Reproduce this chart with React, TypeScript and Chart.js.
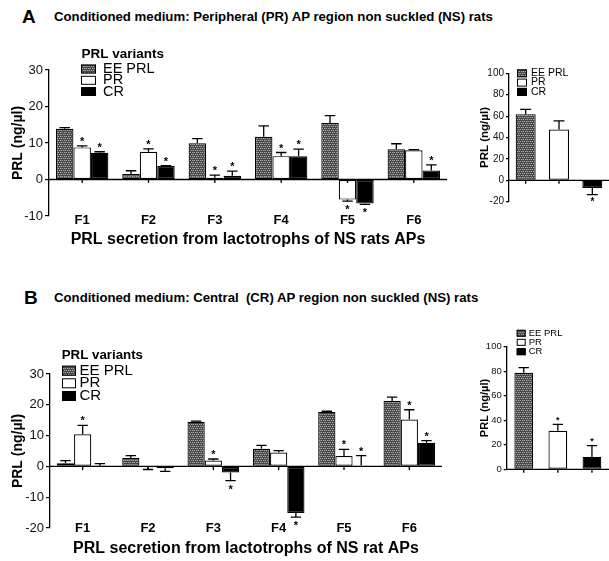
import React, { useEffect, useRef } from "react";
import { Chart, registerables } from "chart.js";
Chart.register(...registerables);

const FONT = "'Liberation Sans', Arial, Helvetica, sans-serif";

// ---------- data ----------
const fractions = ["F1", "F2", "F3", "F4", "F5", "F6"];
const variantNames = ["EE PRL", "PR", "CR"];

// Panel A: peripheral (PR) region, main chart
const aEE = [13.9, 1.5, 9.9, 11.7, 15.5, 8.3];
const aEEErr = [14.2, 2.4, 11.2, 14.7, 17.5, 9.8];
const aPR = [8.8, 7.6, 0.5, 6.4, -5.5, 8.0];
const aPRErr = [9.2, 8.4, 1.2, 7.4, -5.9, 8.2];
const aCR = [7.3, 3.7, 1.0, 6.4, -6.6, 2.5];
const aCRErr = [7.6, 3.8, 2.3, 8.3, -6.8, 4.0];
const aEESig = [0, 0, 0, 0, 0, 0];
const aPRSig = [1, 1, 1, 1, 1, 0];
const aCRSig = [1, 1, 1, 1, 1, 1];

// Panel A inset (totals)
const aTotal = [61.8, 47.5, -7.2];
const aTotalErr = [66.3, 55.6, -13.4];
const aTotalSig = [0, 0, 1];

// Panel B: central (CR) region, main chart
const bEE = [1.0, 2.7, 14.5, 5.7, 17.7, 21.2];
const bEEErr = [1.9, 3.5, 14.7, 6.8, 17.9, 22.5];
const bPR = [10.4, -0.3, 1.9, 4.5, 3.4, 15.2];
const bPRErr = [13.3, -1.0, 2.4, 5.1, 5.5, 18.4];
const bCR = [0.1, -0.6, -2.0, -15.1, 0.3, 7.7];
const bCRErr = [0.9, -1.6, -4.6, -16.5, 3.5, 8.4];
const bEESig = [0, 0, 0, 0, 0, 0];
const bPRSig = [1, 0, 1, 0, 1, 1];
const bCRSig = [0, 0, 1, 1, 1, 1];

// Panel B inset (totals)
const bTotal = [78.8, 31.5, 10.1];
const bTotalErr = [82.9, 36.7, 19.3];
const bTotalSig = [0, 1, 1];

const FILLS = ["pattern", "#ffffff", "#000000"];

type Rect = { x: number; y: number; w: number; h: number };
type Area = { left: number; top: number; right: number; bottom: number };
type LegendCfg = {
  title?: string;
  titleDx: number;
  titleDy: number;
  titleSize: number;
  rowDy: number[];
  boxDx: number;
  boxW: number;
  boxH: number;
  textDx: number;
  textSize: number;
};
type Props = {
  box: Rect;
  area: Area;
  labels: string[];
  series: { label: string; data: number[]; fill: string | string[] }[];
  errs: number[][];
  sigs: number[][];
  yMin: number;
  yMax: number;
  yStep: number;
  tickSize: number;
  tickLen: number;
  yTitle: string;
  yTitleSize: number;
  yTitleX: number;
  xTitle?: string;
  xTitleSize?: number;
  xTitleY?: number;
  xLabelSize?: number;
  xLabelY?: number;
  catPct: number;
  capFrac: number;
  starSize: number;
  starUp: number;
  starDown: number;
  legend: LegendCfg;
};

function makePattern(): CanvasPattern | string {
  const c = document.createElement("canvas");
  c.width = 4;
  c.height = 4;
  const g = c.getContext("2d");
  if (!g) return "#555";
  g.fillStyle = "#474747";
  g.fillRect(0, 0, 4, 4);
  g.fillStyle = "#a8a8a8";
  g.fillRect(0, 0, 1, 1);
  g.fillRect(2, 0, 1, 1);
  g.fillRect(1, 2, 1, 1);
  g.fillRect(3, 2, 1, 1);
  g.fillStyle = "#707070";
  g.fillRect(1, 0, 1, 1);
  g.fillRect(0, 2, 1, 1);
  return g.createPattern(c, "repeat") || "#555";
}

function PRLChart(p: Props) {
  const ref = useRef<HTMLCanvasElement>(null);
  useEffect(() => {
    const canvas = ref.current;
    if (!canvas) return;
    const pat = makePattern();
    const fillOf = (f: string) => (f === "pattern" ? pat : f);

    const padTop = p.area.top - p.box.y;
    const yW = p.area.left - p.box.x;
    const padRight = p.box.x + p.box.w - p.area.right;
    const xH = p.box.y + p.box.h - p.area.bottom;
    const yTitleLH = p.yTitleSize * 1.2;
    const yTitlePad = p.yTitleX - p.box.x - yTitleLH / 2;
    const xTitleSize = p.xTitleSize || 12;
    const xLabelSize = p.xLabelSize || 12;
    const xTitlePad = p.xTitleY ? p.box.y + p.box.h - p.xTitleY - (xTitleSize * 1.2) / 2 : 0;
    const xLabelOffset = p.xLabelY ? p.xLabelY - p.area.bottom : 0;

    const extras = {
      id: "prlExtras",
      afterDatasetsDraw(chart: any) {
        const ctx = chart.ctx as CanvasRenderingContext2D;
        const ca = chart.chartArea;
        const xs = chart.scales.x;
        const ys = chart.scales.y;
        const y0 = ys.getPixelForValue(0);
        ctx.save();
        // error bars + significance stars
        chart.data.datasets.forEach((ds: any, i: number) => {
          const meta = chart.getDatasetMeta(i);
          meta.data.forEach((bar: any, j: number) => {
            const v = ds.data[j] as number;
            const e = p.errs[i][j];
            const yv = ys.getPixelForValue(v);
            const ye = ys.getPixelForValue(e);
            const bp = bar.getProps(["x", "width"], true);
            const cw = bp.width * p.capFrac;
            ctx.strokeStyle = "#000";
            ctx.lineWidth = 1.3;
            ctx.beginPath();
            ctx.moveTo(bp.x, yv);
            ctx.lineTo(bp.x, ye);
            ctx.moveTo(bp.x - cw / 2, ye);
            ctx.lineTo(bp.x + cw / 2, ye);
            ctx.stroke();
            if (p.sigs[i][j]) {
              ctx.fillStyle = "#000";
              ctx.font = `bold ${p.starSize}px ${FONT}`;
              ctx.textAlign = "center";
              ctx.textBaseline = "middle";
              const up = e >= v;
              ctx.fillText("*", bp.x, up ? ye - p.starUp : ye + p.starDown);
            }
          });
        });
        // zero line with category ticks
        ctx.strokeStyle = "#000";
        ctx.lineWidth = 1.3;
        ctx.beginPath();
        ctx.moveTo(ca.left, y0);
        ctx.lineTo(ca.right, y0);
        p.labels.forEach((_l, i) => {
          const px = xs.getPixelForValue(i);
          ctx.moveTo(px, y0);
          ctx.lineTo(px, y0 + 3.5);
        });
        ctx.stroke();
        // category labels (below the plot, beside the lowest y tick)
        if (p.xLabelY) {
          ctx.fillStyle = "#000";
          ctx.font = `bold ${xLabelSize}px ${FONT}`;
          ctx.textAlign = "center";
          ctx.textBaseline = "middle";
          p.labels.forEach((l, i) => {
            ctx.fillText(l, xs.getPixelForValue(i), ca.bottom + xLabelOffset);
          });
        }
        // legend
        const L = p.legend;
        ctx.textAlign = "left";
        ctx.textBaseline = "middle";
        ctx.fillStyle = "#000";
        if (L.title) {
          ctx.font = `bold ${L.titleSize}px ${FONT}`;
          ctx.fillText(L.title, ca.left + L.titleDx, ca.top + L.titleDy);
        }
        variantNames.forEach((name, k) => {
          const cy = ca.top + L.rowDy[k];
          const bx = ca.left + L.boxDx;
          ctx.fillStyle = fillOf(FILLS[k]) as any;
          ctx.fillRect(bx, cy - L.boxH / 2, L.boxW, L.boxH);
          ctx.strokeStyle = "#000";
          ctx.lineWidth = 1;
          ctx.strokeRect(bx + 0.5, cy - L.boxH / 2 + 0.5, L.boxW - 1, L.boxH - 1);
          ctx.fillStyle = "#000";
          ctx.font = `${L.textSize}px ${FONT}`;
          ctx.fillText(name, ca.left + L.textDx, cy);
        });
        ctx.restore();
      },
    };

    const chart = new Chart(canvas, {
      type: "bar",
      data: {
        labels: p.labels,
        datasets: p.series.map((s) => ({
          label: s.label,
          data: s.data,
          backgroundColor: Array.isArray(s.fill) ? s.fill.map(fillOf) : fillOf(s.fill),
          borderColor: "#000",
          borderWidth: 1.2,
          borderSkipped: false,
          categoryPercentage: p.catPct,
          barPercentage: 1,
        })) as any,
      },
      options: {
        responsive: false,
        animation: false,
        devicePixelRatio: 1,
        layout: { padding: { top: padTop, left: 0, right: padRight, bottom: 0 } },
        plugins: {
          legend: { display: false },
          tooltip: { enabled: false },
          title: { display: false },
        },
        scales: {
          x: {
            grid: { display: false, drawTicks: false },
            border: { display: false },
            ticks: { display: false },
            title: {
              display: !!p.xTitle,
              text: p.xTitle || "",
              color: "#000",
              font: { family: FONT, size: xTitleSize, weight: "bold", lineHeight: 1.2 },
              padding: { top: 0, bottom: xTitlePad },
            },
            afterFit(s: any) {
              s.height = xH;
            },
          },
          y: {
            min: p.yMin,
            max: p.yMax,
            ticks: {
              stepSize: p.yStep,
              color: "#111",
              padding: 2,
              font: { family: FONT, size: p.tickSize, lineHeight: 1.2 },
            },
            grid: {
              drawOnChartArea: false,
              drawTicks: true,
              tickLength: p.tickLen,
              color: "#000",
              lineWidth: 1.2,
            },
            border: { display: true, color: "#000", width: 1.3 },
            title: {
              display: true,
              text: p.yTitle,
              color: "#000",
              font: { family: FONT, size: p.yTitleSize, weight: "bold", lineHeight: 1.2 },
              padding: { top: yTitlePad, bottom: 0 },
            },
            afterFit(s: any) {
              s.width = yW;
            },
          },
        } as any,
      },
      plugins: [extras as any],
    });
    return () => chart.destroy();
  }, []);
  return (
    <canvas
      ref={ref}
      width={p.box.w}
      height={p.box.h}
      style={{ position: "absolute", left: p.box.x, top: p.box.y, width: p.box.w, height: p.box.h, display: "block" }}
    />
  );
}

function Heading(props: { letter: string; text: string; cy: number; letterX: number }) {
  return (
    <>
      <div
        style={{
          position: "absolute",
          left: props.letterX,
          top: props.cy - 11,
          height: 22,
          lineHeight: "22px",
          fontSize: 19,
          fontWeight: "bold",
          fontFamily: FONT,
          color: "#000",
        }}
      >
        {props.letter}
      </div>
      <div
        style={{
          position: "absolute",
          left: 54,
          top: props.cy - 9,
          height: 18,
          lineHeight: "18px",
          fontSize: 13.2,
          fontWeight: "bold",
          fontFamily: FONT,
          color: "#000",
          whiteSpace: "pre",
        }}
      >
        {props.text}
      </div>
    </>
  );
}

export default function App() {
  const mainSeriesA = [
    { label: variantNames[0], data: aEE, fill: FILLS[0] },
    { label: variantNames[1], data: aPR, fill: FILLS[1] },
    { label: variantNames[2], data: aCR, fill: FILLS[2] },
  ];
  const mainSeriesB = [
    { label: variantNames[0], data: bEE, fill: FILLS[0] },
    { label: variantNames[1], data: bPR, fill: FILLS[1] },
    { label: variantNames[2], data: bCR, fill: FILLS[2] },
  ];
  return (
    <div style={{ position: "absolute", left: 0, top: 0, width: 609, height: 561, background: "#fff", overflow: "hidden" }}>
      <Heading letter="A" letterX={22} cy={17} text="Conditioned medium: Peripheral (PR) AP region non suckled (NS) rats" />
      <Heading letter="B" letterX={24} cy={298} text="Conditioned medium: Central  (CR) AP region non suckled (NS) rats" />

      <PRLChart
        box={{ x: 0, y: 40, w: 455, h: 215 }}
        area={{ left: 49, top: 70, right: 447, bottom: 216 }}
        labels={fractions}
        series={mainSeriesA}
        errs={[aEEErr, aPRErr, aCRErr]}
        sigs={[aEESig, aPRSig, aCRSig]}
        yMin={-10}
        yMax={30}
        yStep={10}
        tickSize={13}
        tickLen={4}
        yTitle="PRL (ng/µl)"
        yTitleSize={14}
        yTitleX={18}
        xTitle="PRL secretion from lactotrophs of NS rats APs"
        xTitleSize={16}
        xTitleY={240}
        xLabelSize={13}
        xLabelY={220}
        catPct={0.79}
        capFrac={0.6}
        starSize={11}
        starUp={4}
        starDown={9}
        legend={{
          title: "PRL variants",
          titleDx: 32.5,
          titleDy: -15.5,
          titleSize: 13.5,
          rowDy: [-1, 10.3, 21.5],
          boxDx: 32,
          boxW: 15,
          boxH: 9,
          textDx: 54,
          textSize: 14.5,
        }}
      />

      <PRLChart
        box={{ x: 470, y: 45, w: 139, h: 200 }}
        area={{ left: 509, top: 73.3, right: 615, bottom: 201.7 }}
        labels={["", "", ""]}
        series={[{ label: "total", data: aTotal, fill: FILLS }]}
        errs={[aTotalErr]}
        sigs={[aTotalSig]}
        yMin={-20}
        yMax={100}
        yStep={20}
        tickSize={10}
        tickLen={3}
        yTitle="PRL (ng/µl)"
        yTitleSize={11.5}
        yTitleX={485}
        catPct={0.6}
        capFrac={0.55}
        starSize={10}
        starUp={4}
        starDown={8}
        legend={{
          titleDx: 0,
          titleDy: 0,
          titleSize: 10,
          rowDy: [0, 9.3, 18.6],
          boxDx: 8,
          boxW: 10,
          boxH: 8,
          textDx: 22,
          textSize: 10.5,
        }}
      />

      <PRLChart
        box={{ x: 0, y: 330, w: 450, h: 231 }}
        area={{ left: 50, top: 374, right: 442, bottom: 528 }}
        labels={fractions}
        series={mainSeriesB}
        errs={[bEEErr, bPRErr, bCRErr]}
        sigs={[bEESig, bPRSig, bCRSig]}
        yMin={-20}
        yMax={30}
        yStep={10}
        tickSize={13}
        tickLen={4}
        yTitle="PRL (ng/µl)"
        yTitleSize={14}
        yTitleX={18}
        xTitle="PRL secretion from lactotrophs of NS rat APs"
        xTitleSize={16}
        xTitleY={549}
        xLabelSize={13}
        xLabelY={528}
        catPct={0.79}
        capFrac={0.6}
        starSize={11}
        starUp={4}
        starDown={9}
        legend={{
          title: "PRL variants",
          titleDx: 11.7,
          titleDy: -19,
          titleSize: 13.3,
          rowDy: [-3.3, 9.3, 22],
          boxDx: 12,
          boxW: 14,
          boxH: 10,
          textDx: 29.5,
          textSize: 15,
        }}
      />

      <PRLChart
        box={{ x: 470, y: 320, w: 139, h: 190 }}
        area={{ left: 506.7, top: 346.7, right: 609.3, bottom: 469.3 }}
        labels={["", "", ""]}
        series={[{ label: "total", data: bTotal, fill: FILLS }]}
        errs={[bTotalErr]}
        sigs={[bTotalSig]}
        yMin={0}
        yMax={100}
        yStep={20}
        tickSize={9.5}
        tickLen={3}
        yTitle="PRL (ng/µl)"
        yTitleSize={11}
        yTitleX={485}
        catPct={0.55}
        capFrac={0.55}
        starSize={9}
        starUp={4}
        starDown={8}
        legend={{
          titleDx: 0,
          titleDy: 0,
          titleSize: 9,
          rowDy: [-13.4, -4.4, 5],
          boxDx: 10,
          boxW: 9,
          boxH: 7,
          textDx: 22,
          textSize: 9.5,
        }}
      />
    </div>
  );
}
